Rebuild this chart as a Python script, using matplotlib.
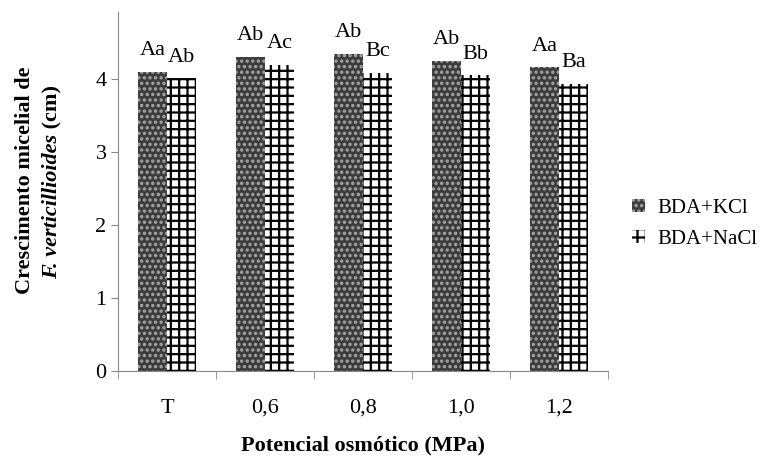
import numpy as np
import matplotlib
matplotlib.use("Agg")
import matplotlib.pyplot as plt

plt.rcParams['font.family'] = ['Liberation Serif', 'DejaVu Serif']
plt.rcParams['hatch.linewidth'] = 1.6

categorias = ['T', '0,6', '0,8', '1,0', '1,2']
kcl = [4.10, 4.30, 4.34, 4.25, 4.16]
nacl = [4.01, 4.19, 4.08, 4.05, 3.93]
letras_kcl = ['Aa', 'Ab', 'Ab', 'Ab', 'Aa']
letras_nacl = ['Ab', 'Ac', 'Bc', 'Bb', 'Ba']

fig = plt.figure(figsize=(7.63, 4.57), dpi=100)
ax = fig.add_axes([0.155, 0.188, 0.642, 0.786])

x = np.arange(len(categorias))
w = 0.295
b1 = ax.bar(x - w/2, kcl, w, color='#3c3c3c', edgecolor='#a8a8a8', hatch='...', linewidth=0)
b2 = ax.bar(x + w/2, nacl, w, color='white', edgecolor='black', hatch='++', linewidth=0)

for i in range(len(x)):
	ax.text(x[i] - w/2, kcl[i] + 0.23, letras_kcl[i], ha='center', va='baseline', fontsize=16)
	ax.text(x[i] + w/2, nacl[i] + 0.23, letras_nacl[i], ha='center', va='baseline', fontsize=16)

ax.set_xlim(-0.5, len(x) - 0.5)
ax.set_ylim(0, 4.92)
ax.set_yticks([0, 1, 2, 3, 4])
ax.set_xticks(x)
ax.set_xticklabels(categorias)
ax.set_xticks(np.arange(-0.5, len(x)), minor=True)
ax.tick_params(axis='x', which='major', length=0, pad=20, labelsize=16)
ax.tick_params(axis='x', which='minor', length=6, color='#888888')
ax.tick_params(axis='y', length=5, color='#888888', labelsize=16)
for s in ['top', 'right']:
	ax.spines[s].set_visible(False)
for s in ['left', 'bottom']:
	ax.spines[s].set_color('#888888')

fig.text(363/763, 1 - 445/457, 'Potencial osmótico (MPa)',
	ha='center', va='center', fontsize=16, fontweight='bold')

fig.text(25/763, 1 - 180/457, 'Crescimento micelial de', rotation=90,
	ha='center', va='center', fontsize=16, fontweight='bold')

# segunda linha: parte em italico + parte normal
fig.canvas.draw()
r = fig.canvas.get_renderer()
t1 = fig.text(52/763, 0, 'F. verticillioides', rotation=90, ha='center', va='bottom',
	fontsize=16, fontweight='bold', style='italic')
t2 = fig.text(52/763, 0, ' (cm)', rotation=90, ha='center', va='bottom',
	fontsize=16, fontweight='bold')
h1 = t1.get_window_extent(r).height
h2 = t2.get_window_extent(r).height
tot = h1 + h2
y0 = (457 - 182) - tot/2
t1.set_y(y0/457)
t2.set_y((y0 + h1)/457)

leg = fig.legend([b1, b2], ['BDA+KCl', 'BDA+NaCl'], loc='center left',
	bbox_to_anchor=(632/763, 0.51), frameon=False, fontsize=15,
	borderpad=0, borderaxespad=0,
	handlelength=0.6, handleheight=0.6, handletextpad=0.6, labelspacing=0.55)

plt.savefig('out.png', dpi=100)
